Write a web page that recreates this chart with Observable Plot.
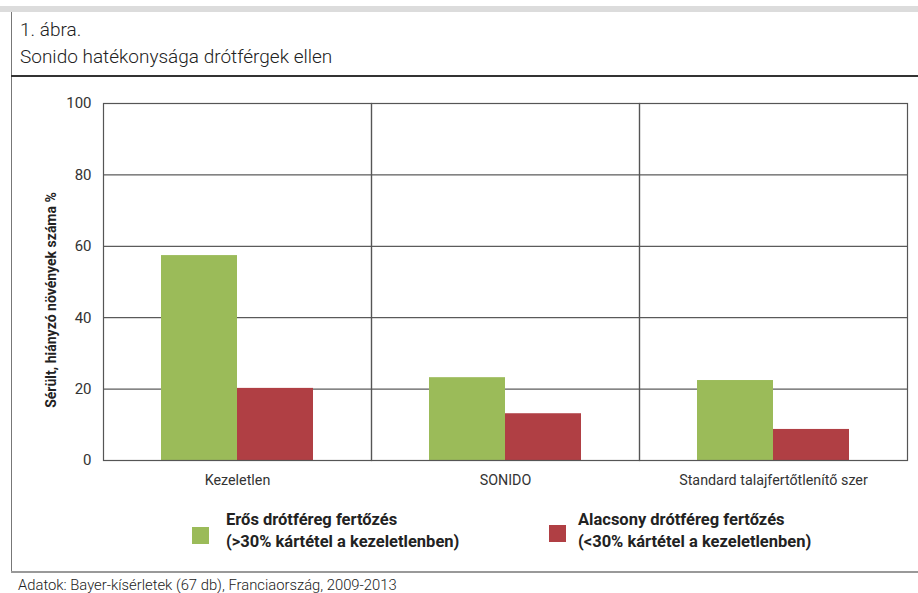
<!DOCTYPE html>
<html>
<head>
<meta charset="utf-8">
<script src="https://cdn.jsdelivr.net/npm/d3@7"></script>
<script src="https://cdn.jsdelivr.net/npm/@observablehq/plot@0.6"></script>
<style>
  html, body { margin: 0; padding: 0; background: #fff; }
  body { width: 918px; height: 593px; position: relative; overflow: hidden; font-family: Roboto, "Noto Sans", sans-serif; color: #222; }
  .abs { position: absolute; }
  #topbar { left: 0; top: 6px; width: 918px; height: 6px; background: #dcdcdc; }
  #leftborder { left: 11px; top: 12px; width: 1px; height: 561px; background: #777; }
  #titleline { left: 11px; top: 75px; width: 907px; height: 2px; background: #333; }
  #bottomline { left: 11px; top: 571px; width: 907px; height: 2px; background: #999; }
  #title { left: 20px; top: 16px; font-size: 19px; line-height: 27px; font-weight: 300; color: #222; }
  #chart { left: 0; top: 80px; }
  .leg { font-size: 16.5px; font-weight: 700; line-height: 22px; color: #222; white-space: nowrap; }
  .sw { width: 17px; height: 17px; }
  #caption { left: 18px; top: 576px; font-size: 14.8px; font-weight: 300; color: #222; white-space: nowrap; }
</style>
</head>
<body>
<div id="topbar" class="abs"></div>
<div id="leftborder" class="abs"></div>
<div id="titleline" class="abs"></div>
<div id="bottomline" class="abs"></div>
<div id="title" class="abs">1. ábra.<br>Sonido hatékonysága drótférgek ellen</div>
<div id="chart" class="abs"></div>
<div class="abs sw" style="left:192px; top:527px; background:#9bbb59;"></div>
<div class="abs leg" style="left:226px; top:509px;">Erős drótféreg fertőzés<br>(&gt;30% kártétel a kezeletlenben)</div>
<div class="abs sw" style="left:549px; top:525px; background:#b03f44;"></div>
<div class="abs leg" style="left:578px; top:509px;">Alacsony drótféreg fertőzés<br>(&lt;30% kártétel a kezeletlenben)</div>
<div id="caption" class="abs">Adatok: Bayer-kísérletek (67 db), Franciaország, 2009-2013</div>
<script>
const categories = ["Kezeletlen", "SONIDO", "Standard talajfertőtlenítő szer"];
const seriesNames = ["Erős drótféreg fertőzés", "Alacsony drótféreg fertőzés"];
const strongValues = [57.4, 23.2, 22.4];
const lowValues = [20.2, 13.1, 8.7];
const seriesColors = ["#9bbb59", "#b03f44"];
const yTicks = [0, 20, 40, 60, 80, 100];
const yLabel = "Sérült, hiányzó növények száma %";

const rows = [];
categories.forEach((c, i) => {
  rows.push({cat: c, series: seriesNames[0], value: strongValues[i]});
  rows.push({cat: c, series: seriesNames[1], value: lowValues[i]});
});

const chart = Plot.plot({
  width: 918,
  height: 420,
  marginTop: 23,
  marginBottom: 40,
  marginLeft: 102,
  marginRight: 10,
  style: {fontFamily: "Roboto, 'Noto Sans', sans-serif", fontSize: "13px", color: "#333", background: "transparent"},
  fx: {domain: categories, padding: 0, label: null},
  x: {domain: seriesNames, paddingInner: 0, paddingOuter: 0.747, axis: null},
  y: {domain: [0, 100], label: null},
  color: {domain: seriesNames, range: seriesColors},
  marks: [
    Plot.gridY(yTicks, {stroke: "#333", strokeOpacity: 1, strokeWidth: 1}),
    Plot.barY(rows, {fx: "cat", x: "series", y: "value", fill: "series"}),
    Plot.frame({stroke: "#555", strokeWidth: 1.2}),
    Plot.axisY(yTicks, {tickSize: 0, tickPadding: 12, fontSize: 15, label: yLabel, labelAnchor: "center", labelOffset: 57, labelArrow: "none"}),
    Plot.axisFx({anchor: "bottom", tickSize: 0, tickPadding: 14, fontSize: 14.3, label: null})
  ]
});
document.getElementById("chart").appendChild(chart);
const lab = chart.querySelector('[aria-label="y-axis label"]');
if (lab) {
  const tr = lab.getAttribute("transform") || "";
  lab.setAttribute("transform", (tr + " translate(0,18)").trim());
  lab.querySelectorAll("text").forEach(t => {
    t.textContent = yLabel;
    t.style.fontWeight = "bold";
    t.style.fontSize = "14px";
    t.style.fill = "#222";
  });
}
</script>
</body>
</html>
